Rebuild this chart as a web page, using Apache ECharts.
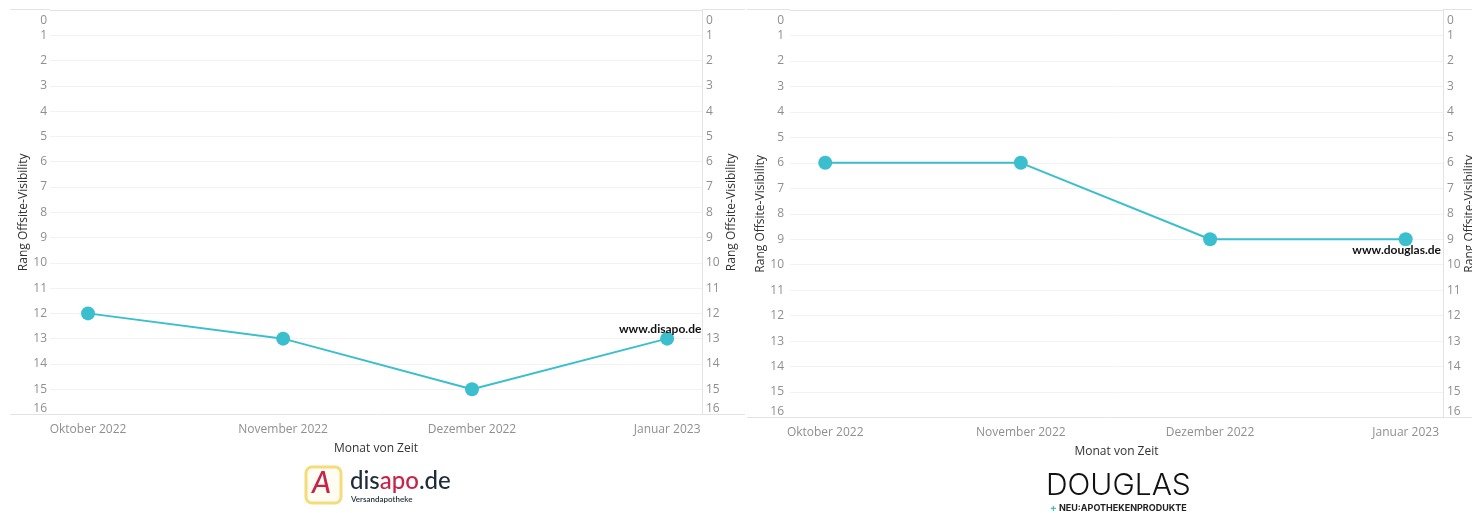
<!DOCTYPE html>
<html>
<head>
<meta charset="utf-8">
<script src="https://cdn.jsdelivr.net/npm/echarts@6/dist/echarts.min.js"></script>
<style>
html,body{margin:0;padding:0;background:#fff;}
#c{width:1472px;height:513px;}
</style>
</head>
<body>
<div id="c"></div>
<script>
// ---- data ----
const months = ['2022-10-01', '2022-11-01', '2022-12-01', '2023-01-01'];
const monthNamesDE = ['Januar','Februar','März','April','Mai','Juni','Juli','August','September','Oktober','November','Dezember'];
const disapoRank = [12, 13, 15, 13];
const douglasRank = [6, 6, 9, 9];
const disapoName = 'www.disapo.de';
const douglasName = 'www.douglas.de';
const rankTicks = [0, 16];
const xTitle = 'Monat von Zeit';
const yTitle = 'Rang Offsite-Visibility';

const FONT = '"Open Sans", "Noto Sans", sans-serif';
const LINE = '#3bbfce';
const TICK = '#8f8f8f';
const TITLE = '#333333';
const GRID = '#f2f2f2';
const BORDER = '#e3e3e3';

function ts(y, m, d, h) { return new Date(y, m, d, h || 0).getTime(); }

function xAxis(gridIndex, min, max) {
  return {
    type: 'time', gridIndex, min, max, splitNumber: 3,
    name: xTitle, nameLocation: 'middle', nameGap: 28, nameMoveOverlap: false,
    nameTextStyle: { color: TITLE, fontSize: 12, fontFamily: FONT },
    axisLine: { show: true, lineStyle: { color: BORDER } },
    axisTick: { show: false },
    splitLine: { show: false },
    axisLabel: {
      color: TICK, fontSize: 12, fontFamily: FONT, margin: 9, hideOverlap: false,
      formatter: function (v) {
        const d = new Date(v);
        if (d.getDate() !== 1) return '';
        return monthNamesDE[d.getMonth()] + ' ' + d.getFullYear();
      }
    }
  };
}

function yAxis(gridIndex, position, gap, margin, showGrid, showLine) {
  return {
    type: 'value', gridIndex, position, inverse: true,
    min: rankTicks[0], max: rankTicks[1], interval: 1,
    name: yTitle, nameLocation: 'middle', nameGap: gap, nameRotate: 90, nameMoveOverlap: false,
    nameTextStyle: { color: TITLE, fontSize: 12, fontFamily: FONT, verticalAlign: 'middle' },
    axisLine: { show: showLine, lineStyle: { color: BORDER } },
    axisTick: { show: false },
    splitLine: { show: showGrid, showMinLine: false, showMaxLine: false, lineStyle: { color: GRID } },
    axisLabel: {
      color: TICK, fontSize: 12, fontFamily: FONT, margin,
      verticalAlignMinLabel: 'top', verticalAlignMaxLabel: 'bottom',
      formatter: function (v) { return v === rankTicks[0] ? '{t|' + v + '}' : String(v); },
      rich: { t: { color: TICK, fontSize: 12, fontFamily: FONT, padding: [5, 0, 0, 0] } }
    }
  };
}

function seriesData(values, name, offset) {
  return months.map((m, i) => {
    const item = { value: [m, values[i]] };
    if (i === values.length - 1) {
      item.label = {
        show: true, position: 'inside', offset,
        formatter: name, color: '#111', fontSize: 12, fontWeight: 'bold', fontFamily: '"Lato", sans-serif'
      };
    }
    return item;
  });
}

function hline(x1, x2, y) {
  return { type: 'line', shape: { x1, y1: y, x2, y2: y }, style: { stroke: BORDER, lineWidth: 1 }, silent: true };
}

const chart = echarts.init(document.getElementById('c'), null, { renderer: 'canvas' });
chart.setOption({
  backgroundColor: '#fff',
  animation: false,
  grid: [
    { left: 50, right: 770, top: 10, bottom: 98.5, outerBoundsMode: 'none' },
    { left: 790, right: 29, top: 10, bottom: 95.5, outerBoundsMode: 'none' }
  ],
  xAxis: [
    xAxis(0, ts(2022, 8, 24, 23), ts(2023, 0, 6, 13)),
    xAxis(1, ts(2022, 8, 25, 10), ts(2023, 0, 6, 22))
  ],
  yAxis: [
    yAxis(0, 'left', 26.5, 3, true, false),
    yAxis(0, 'right', 30, 4, false, true),
    yAxis(1, 'left', 29, 6, true, false),
    yAxis(1, 'right', 27, 4, false, true)
  ],
  series: [
    {
      type: 'line', xAxisIndex: 0, yAxisIndex: 0,
      data: seriesData(disapoRank, disapoName, [-7, -10]),
      symbol: 'circle', symbolSize: 14,
      lineStyle: { color: LINE, width: 2 }, itemStyle: { color: LINE }
    },
    {
      type: 'line', xAxisIndex: 1, yAxisIndex: 2,
      data: seriesData(douglasRank, douglasName, [-9, 11]),
      symbol: 'circle', symbolSize: 14,
      lineStyle: { color: LINE, width: 2 }, itemStyle: { color: LINE }
    }
  ],
  graphic: [
    // frame lines around axis panels
    hline(10, 50, 9.5), hline(702, 745, 9.5), hline(10, 745, 414.5),
    hline(747, 790, 9.5), hline(1443, 1472, 9.5), hline(747, 1472, 417.5),
    // disapo logo
    { type: 'rect', shape: { x: 306, y: 467, width: 35, height: 36, r: 6 },
      style: { fill: '#fffdf3', stroke: '#f6dc78', lineWidth: 3 } },
    { type: 'text', left: 312, top: 468,
      style: { text: 'A', fill: '#c8234a', font: 'italic 500 30px "Lato", "Open Sans", sans-serif' } },
    { type: 'text', left: 350, top: 469,
      style: { text: '{a|dis}{b|apo}{a|.de}', font: '500 24px "Lato", sans-serif',
        rich: {
          a: { fill: '#1f2b3a', font: '500 24px "Lato", sans-serif' },
          b: { fill: '#c8234a', font: '500 24px "Lato", sans-serif' }
        } } },
    { type: 'text', left: 351, top: 495,
      style: { text: 'Versandapotheke', fill: '#1f2b3a', font: '600 8px "Lato", sans-serif' } },
    // douglas logo
    { type: 'text', left: 1046, top: 471,
      style: { text: 'DOUGLAS', fill: '#111', font: '300 30px "Inter", "Lato", sans-serif' } },
    { type: 'text', left: 1050, top: 503,
      style: { text: '{p|+} NEU:APOTHEKENPRODUKTE', fill: '#222', font: 'bold 9px "Inter", sans-serif',
        rich: { p: { fill: '#4cc0b0', font: 'bold 10px "Inter", sans-serif' } } } }
  ]
});
</script>
</body>
</html>
